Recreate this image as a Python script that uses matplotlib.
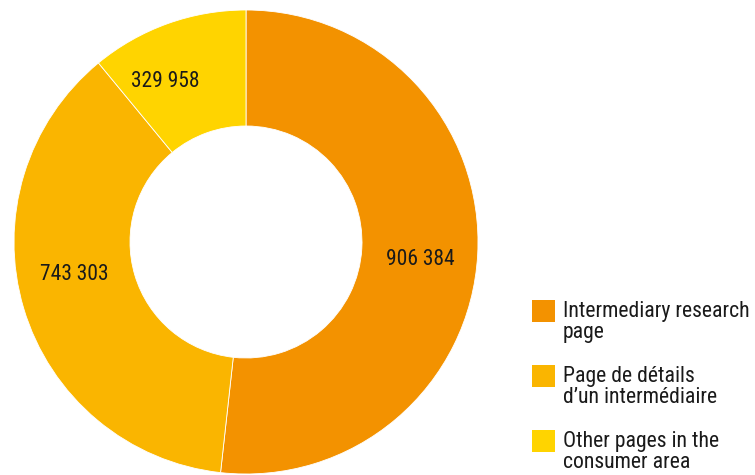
import matplotlib
matplotlib.use("Agg")
from matplotlib import pyplot as plt
from matplotlib.patches import Rectangle

# Données
categories = ["Intermediary research\npage",
              "Page de détails\nd\u2019un intermédiaire",
              "Other pages in the\nconsumer area"]
value_labels = ["906 384", "743 303", "329 958"]
# parts des secteurs (en %)
shares = [51.75, 37.28, 10.97]
colors = ["#F39200", "#FAB500", "#FFD400"]

# positions des étiquettes (coordonnées du camembert)
label_pos = [(0.75, -0.075), (-0.74, -0.14), (-0.35, 0.69)]

FONT = ["Roboto Condensed", "Liberation Sans Narrow", "Roboto", "DejaVu Sans"]

fig = plt.figure(figsize=(7.55, 4.75), dpi=100)
ax = fig.add_axes([14 / 755, 1 / 475, 464 / 755, 464 / 475])
ax.pie(shares, colors=colors, startangle=90, counterclock=False,
       radius=1.0, wedgeprops=dict(width=0.5, edgecolor="white", linewidth=0.6))
ax.set_xlim(-1, 1)
ax.set_ylim(-1, 1)
ax.set_aspect("equal")
ax.axis("off")

for (x, y), txt in zip(label_pos, value_labels):
    ax.text(x, y, txt, ha="center", va="center", fontsize=15.5,
            family=FONT, color="#1a1a1a")

# Légende
for i, (lab, col) in enumerate(zip(categories, colors)):
    top = 300 + i * 65
    fig.patches.append(Rectangle((532 / 755, 1 - (top + 22) / 475), 23 / 755, 22 / 475,
                                 transform=fig.transFigure, facecolor=col,
                                 edgecolor="none"))
    fig.text(563 / 755, 1 - (top + 1) / 475, lab, ha="left", va="top",
             fontsize=15.7, family=FONT, color="#1a1a1a", linespacing=1.0)

fig.savefig("out.png", dpi=100)
